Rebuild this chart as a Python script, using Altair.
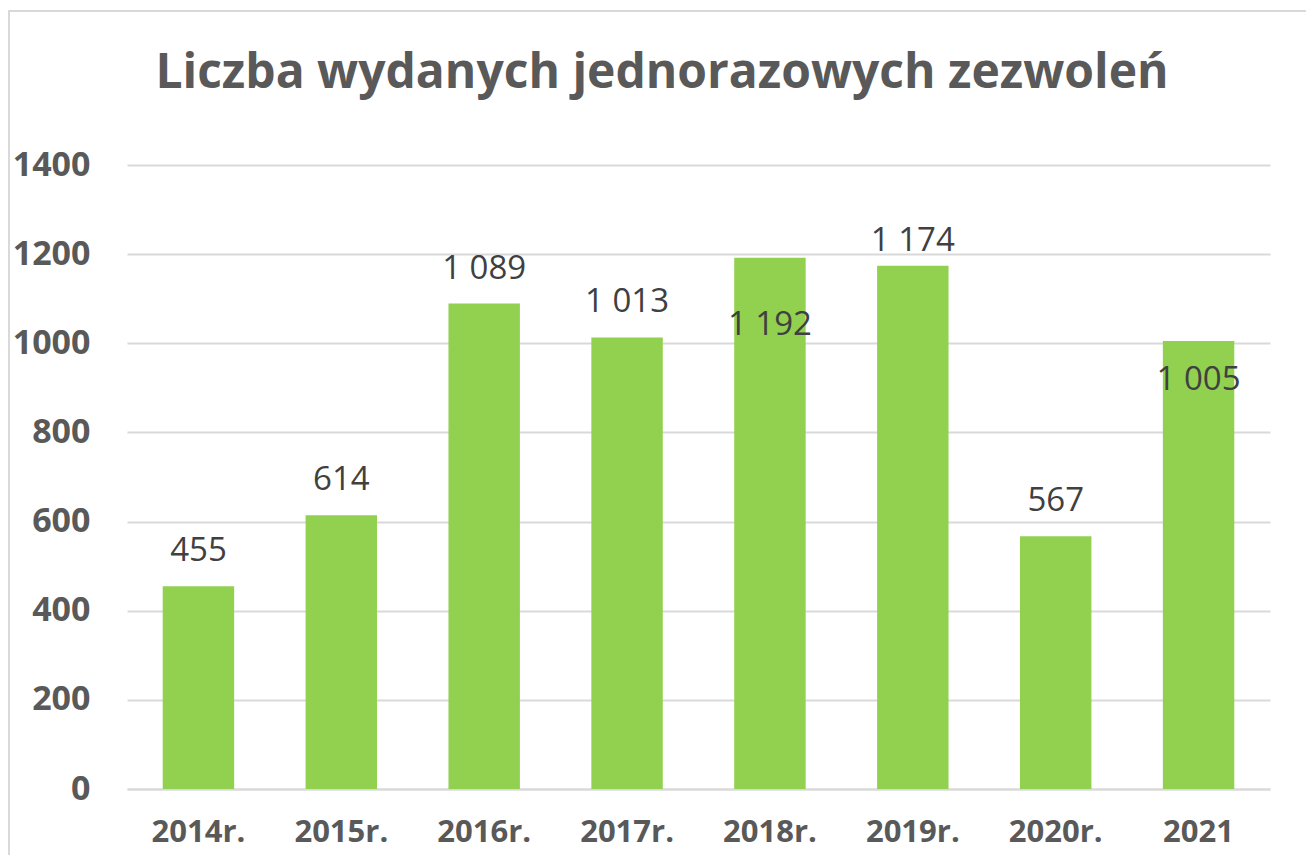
import altair as alt
import pandas as pd

years = ["2014r.", "2015r.", "2016r.", "2017r.", "2018r.", "2019r.", "2020r.", "2021"]
values = [455, 614, 1089, 1013, 1192, 1174, 567, 1005]
labels = [f"{v:,}".replace(",", " ") for v in values]
inside = [False, False, False, False, True, False, False, True]
title_text = "Liczba wydanych jednorazowych zezwoleń"

df = pd.DataFrame({"year": years, "value": values, "label": labels, "inside": inside})

W, H = 1143, 624
FONT = "Open Sans"

base = alt.Chart(df).encode(
    x=alt.X("year:N", sort=years, title=None,
            scale=alt.Scale(paddingInner=0.5, paddingOuter=0.25),
            axis=alt.Axis(labelAngle=0, labelFont=FONT, labelFontSize=31, labelFontWeight="bold",
                          labelColor="#595959", labelPadding=43, labelBaseline="middle", ticks=False,
                          domain=True, domainColor="#d9d9d9", domainWidth=2)),
)

bars = base.mark_bar(color="#92D050").encode(
    y=alt.Y("value:Q", title=None,
            scale=alt.Scale(domain=[0, 1400]),
            axis=alt.Axis(values=[0, 200, 400, 600, 800, 1000, 1200, 1400], format="d",
                          labelFont=FONT, labelFontSize=34, labelFontWeight="bold",
                          labelColor="#595959", labelPadding=37, ticks=False, domain=False,
                          grid=True, gridColor="#d9d9d9", gridWidth=2))
)

text_style = dict(font=FONT, fontSize=33, color="#404040", baseline="middle")

above = base.transform_filter("!datum.inside && datum.year != '2019r.'").mark_text(
    dy=-35, **text_style).encode(y="value:Q", text="label:N")
in2019 = base.transform_filter("datum.year == '2019r.'").mark_text(dy=-25, **text_style).encode(
    y="value:Q", text="label:N")
in2018 = base.transform_filter("datum.year == '2018r.'").mark_text(dy=67, **text_style).encode(
    y="value:Q", text="label:N")
in2021 = base.transform_filter("datum.year == '2021'").mark_text(dy=39, **text_style).encode(
    y="value:Q", text="label:N")

border = alt.Chart(pd.DataFrame({"b": [0]})).mark_rect(
    fill=None, stroke="#d9d9d9", strokeWidth=2
).encode(x=alt.value(-118), x2=alt.value(W + 60), y=alt.value(-154), y2=alt.value(H + 120))

title = alt.Chart(pd.DataFrame({"t": [title_text]})).mark_text(
    font=FONT, fontSize=48, fontWeight="bold", color="#595959", baseline="middle", align="center"
).encode(x=alt.value(535), y=alt.value(-91), text="t:N")

chart = alt.layer(border, bars, above, in2019, in2018, in2021, title).properties(
    width=W, height=H,
    autosize=alt.AutoSizeParams(type="none"),
    padding={"left": 119, "top": 157, "right": 36, "bottom": 66},
).configure_view(stroke=None)

chart.save("out.html", embed_options={"renderer": "svg", "actions": False})
